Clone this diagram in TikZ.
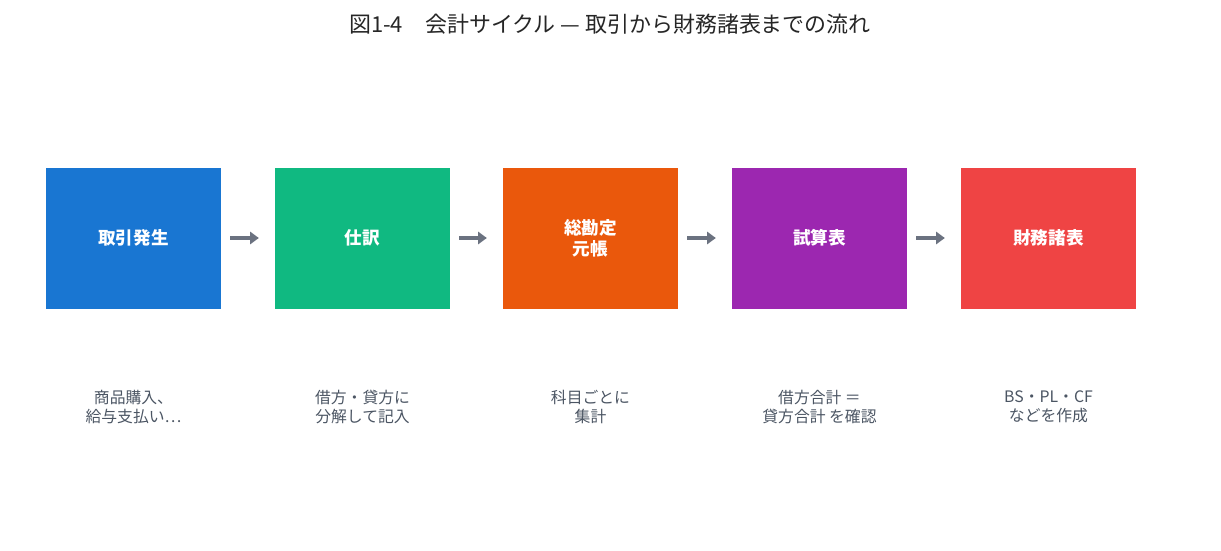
\documentclass[tikz,border=0pt]{standalone}
\usepackage{fontspec}
\setmainfont{Noto Sans CJK JP}
\usetikzlibrary{arrows.meta}
\definecolor{cb}{HTML}{1976D2}
\definecolor{cg}{HTML}{10B981}
\definecolor{co}{HTML}{EA580C}
\definecolor{cp}{HTML}{9C27B0}
\definecolor{cr}{HTML}{EF4444}
\definecolor{ar}{HTML}{6B7280}
\definecolor{tx}{HTML}{4B5563}
\begin{document}
\begin{tikzpicture}[x=0.02cm,y=-0.02cm,
 box/.style={draw=none,minimum width=175*0.02cm,minimum height=141*0.02cm,text=white,font=\fontsize{10}{12}\selectfont\bfseries,align=center},
 desc/.style={text=tx,font=\fontsize{9}{11}\selectfont,align=center},
 arr/.style={draw=ar,line width=2.6pt,-{Triangle[length=5pt,width=7pt]},shorten <=5pt,shorten >=9pt}]
\useasboundingbox (0,0) rectangle (1221,551);
\node[font=\fontsize{12.5}{15}\selectfont,text=black!85] (title) at (610,24) {図1-4\quad 会計サイクル — 取引から財務諸表までの流れ};
\node[box,fill=cb] (b1) at (133.5,238) {取引発生};
\node[box,fill=cg] (b2) at (362.5,238) {仕訳};
\node[box,fill=co] (b3) at (590.5,238) {総勘定\\元帳};
\node[box,fill=cp] (b4) at (819.5,238) {試算表};
\node[box,fill=cr] (b5) at (1048.5,238) {財務諸表};
\draw[arr] (b1) -- (b2);
\draw[arr] (b2) -- (b3);
\draw[arr] (b3) -- (b4);
\draw[arr] (b4) -- (b5);
\node[desc] (d1) at (133.5,407) {商品購入、\\給与支払い…};
\node[desc] (d2) at (362.5,407) {借方・貸方に\\分解して記入};
\node[desc] (d3) at (590.5,407) {科目ごとに\\集計};
\node[desc] (d4) at (819.5,407) {借方合計 ＝\\貸方合計 を確認};
\node[desc] (d5) at (1048.5,407) {BS・PL・CF\\などを作成};
\end{tikzpicture}
\end{document}
